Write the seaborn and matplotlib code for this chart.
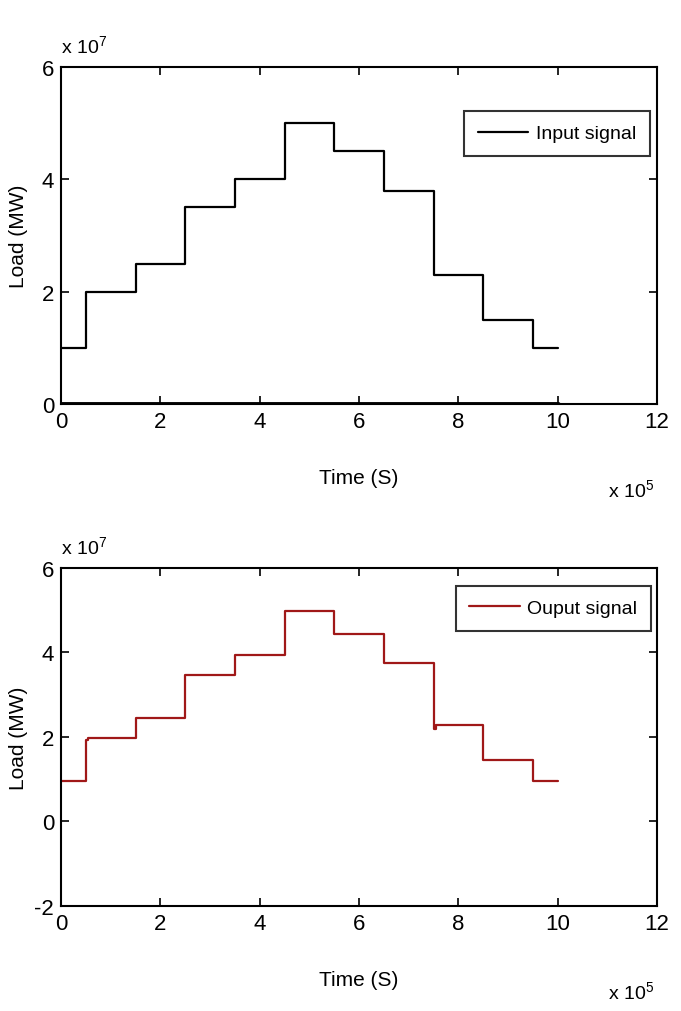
import matplotlib
matplotlib.use('Agg')
import matplotlib.pyplot as plt
import seaborn as sns
import pandas as pd

# Data (time in units of 1e5 s, load in units of 1e7 MW)
step_times = [0, 0.5, 1.5, 2.5, 3.5, 4.5, 5.5, 6.5, 7.5, 8.5, 9.5, 10]
input_load = [1.0, 2.0, 2.5, 3.5, 4.0, 5.0, 4.5, 3.8, 2.3, 1.5, 1.0, 1.0]
output_times = [0, 0.5, 0.55, 0.62, 1.5, 2.5, 3.5, 4.5, 5.5, 6.5, 7.5, 7.55, 7.6, 8.5, 9.5, 10]
output_load = [0.95, 1.92, 1.98, 1.98, 2.45, 3.47, 3.95, 4.98, 4.43, 3.76, 2.2, 2.28, 2.28, 1.45, 0.95, 0.95]
zero_times = [0, 10]
zero_load = [0, 0]

xticks = [0, 2, 4, 6, 8, 10, 12]

sns.set_style('ticks', {'axes.edgecolor': 'black', 'text.color': 'black',
                        'axes.labelcolor': 'black', 'xtick.color': 'black',
                        'ytick.color': 'black'})
plt.rcParams['font.family'] = ['Liberation Sans', 'DejaVu Sans']
plt.rcParams['mathtext.fontset'] = 'custom'
plt.rcParams['mathtext.rm'] = 'Liberation Sans'
plt.rcParams['axes.unicode_minus'] = False

fig = plt.figure(figsize=(6.81, 10.12), dpi=100)
ax1 = fig.add_axes([0.0896, 0.5998, 0.8752, 0.3330])
ax2 = fig.add_axes([0.0896, 0.1038, 0.8752, 0.3340])

df_in = pd.DataFrame({'t': step_times, 'load': input_load})
df_out = pd.DataFrame({'t': output_times, 'load': output_load})
df_zero = pd.DataFrame({'t': zero_times, 'load': zero_load})

sns.lineplot(data=df_in, x='t', y='load', ax=ax1, color='black', lw=1.6,
             drawstyle='steps-post', label='Input signal')
sns.lineplot(data=df_zero, x='t', y='load', ax=ax1, color='black', lw=3.5)
sns.lineplot(data=df_out, x='t', y='load', ax=ax2, color='#a01818', lw=1.6,
             drawstyle='steps-post', label='Ouput signal')

panels = [(ax1, (0, 6), [0, 2, 4, 6], (0.988, 0.869)),
          (ax2, (-2, 6), [-2, 0, 2, 4, 6], (0.99, 0.947))]
for ax, ylim, yticks, anchor in panels:
    ax.set_xlim(0, 12)
    ax.set_ylim(*ylim)
    ax.set_xticks(xticks)
    ax.set_yticks(yticks)
    ax.tick_params(direction='in', top=True, right=True, labelsize=16, length=6, width=1.2, pad=5)
    for s in ax.spines.values():
        s.set_linewidth(1.5)
        s.set_visible(True)
    ax.set_xlabel('Time (S)', fontsize=15, labelpad=26)
    ax.set_ylabel('Load (MW)', fontsize=15)
    ax.yaxis.set_label_coords(-0.055, 0.5)
    ax.text(0.0, 1.03, r'x 10$^7$', transform=ax.transAxes, fontsize=14, ha='left', va='bottom')
    ax.text(0.995, -0.255, r'x 10$^5$', transform=ax.transAxes, fontsize=14, ha='right', va='center')
    leg = ax.legend(loc='upper right', bbox_to_anchor=anchor, fontsize=14, borderaxespad=0,
                    frameon=True, fancybox=False, handlelength=2.6, handletextpad=0.4,
                    borderpad=0.7)
    leg.get_frame().set_edgecolor('black')
    leg.get_frame().set_linewidth(1.5)

fig.savefig('out.png', dpi=100)
